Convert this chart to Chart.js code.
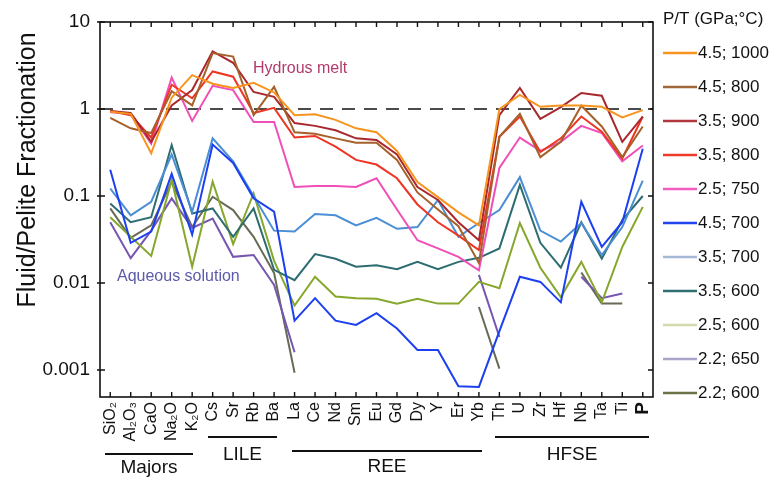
<!DOCTYPE html>
<html>
<head>
<meta charset="utf-8">
<script src="https://cdn.jsdelivr.net/npm/chart.js@4.4.1/dist/chart.umd.min.js"></script>
<style>
  html, body { margin: 0; padding: 0; background: #fff; }
  #wrap { width: 771px; height: 477px; }
</style>
</head>
<body>
<div id="wrap"><canvas id="fracChart" width="771" height="477"></canvas></div>
<script>
// element order along the x axis
const elements = ['SiO₂', 'Al₂O₃', 'CaO', 'Na₂O', 'K₂O', 'Cs', 'Sr', 'Rb', 'Ba', 'La', 'Ce', 'Nd', 'Sm', 'Eu', 'Gd',
  'Dy', 'Y', 'Er', 'Yb', 'Th', 'U', 'Zr', 'Hf', 'Nb', 'Ta', 'Ti', 'P'];
const yTicks = [0.001, 0.01, 0.1, 1, 10];
const yTickLabels = ['0.001', '0.01', '0.1', '1', '10'];

// P/T (GPa; °C) runs
const p45t1000 = [0.93, 0.88, 0.31, 1.35, 2.45, 1.95, 1.75, 2.0, 1.55, 0.85, 0.87, 0.75, 0.6, 0.54, 0.33, 0.145, 0.097, 0.065, 0.046, 1.0, 1.45, 1.06, 1.1, 1.1, 1.06, 0.8, 0.97];
const p45t800 = [0.79, 0.6, 0.53, 1.6, 1.1, 4.4, 4.0, 0.85, 1.8, 0.54, 0.52, 0.46, 0.41, 0.41, 0.26, 0.11, 0.07, 0.045, 0.017, 0.48, 0.88, 0.28, 0.42, 1.09, 0.63, 0.28, 0.63];
const p35t900 = [0.95, 0.9, 0.42, 1.1, 1.65, 4.6, 3.4, 1.57, 1.38, 0.69, 0.64, 0.57, 0.46, 0.44, 0.3, 0.127, 0.09, 0.05, 0.031, 0.85, 1.75, 0.77, 1.05, 1.53, 1.42, 0.42, 0.82];
const p35t800 = [0.95, 0.85, 0.47, 1.9, 1.33, 2.7, 2.35, 0.9, 1.03, 0.47, 0.49, 0.37, 0.26, 0.23, 0.16, 0.08, 0.05, 0.035, 0.024, 0.48, 0.82, 0.32, 0.46, 0.82, 0.55, 0.27, 0.82];
const p25t750 = [0.92, 0.88, 0.4, 2.3, 0.73, 1.85, 1.65, 0.71, 0.71, 0.127, 0.13, 0.13, 0.127, 0.16, 0.07, 0.031, 0.025, 0.02, 0.014, 0.21, 0.47, 0.33, 0.42, 0.64, 0.53, 0.25, 0.38];
const p45t700 = [0.2, 0.029, 0.039, 0.18, 0.036, 0.39, 0.24, 0.094, 0.066, 0.0037, 0.0067, 0.0037, 0.0033, 0.0045, 0.003, 0.0017, 0.0017, 0.00065, 0.00064, 0.0028, 0.0118, 0.0103, 0.006, 0.086, 0.026, 0.05, 0.35];
const p35t700 = [0.122, 0.06, 0.086, 0.3, 0.066, 0.46, 0.25, 0.1, 0.04, 0.039, 0.062, 0.06, 0.046, 0.056, 0.042, 0.044, 0.09, 0.034, 0.049, 0.069, 0.165, 0.04, 0.03, 0.049, 0.021, 0.044, 0.15];
const p35t600 = [0.082, 0.05, 0.057, 0.385, 0.063, 0.072, 0.034, 0.072, 0.0142, 0.0108, 0.0215, 0.019, 0.0154, 0.016, 0.0144, 0.0175, 0.0144, 0.0175, 0.0195, 0.025, 0.134, 0.029, 0.015, 0.05, 0.019, 0.053, 0.1];
const p25t600 = [0.057, 0.034, 0.0205, 0.153, 0.0154, 0.146, 0.028, 0.107, 0.018, 0.0055, 0.0118, 0.007, 0.0067, 0.0066, 0.0058, 0.0066, 0.0058, 0.0058, 0.0103, 0.0087, 0.049, 0.015, 0.0069, 0.0175, 0.006, 0.026, 0.075];
const p22t650 = [0.05, 0.0193, 0.04, 0.094, 0.043, 0.055, 0.02, 0.021, 0.0095, 0.0016, null, null, null, null, null, null, null, null, 0.0124, 0.0024, null, null, null, 0.0118, 0.0067, 0.0076, null];
const p22t600 = [0.072, 0.033, 0.046, 0.146, 0.044, 0.098, 0.069, 0.034, 0.013, 0.00093, null, null, null, null, null, null, null, null, 0.0053, 0.00104, null, null, null, 0.0132, 0.0058, 0.0058, null];

const series = [
  { label: '4.5; 1000', data: p45t1000, color: '#f7941d', legend: '#f7941d' },
  { label: '4.5; 800', data: p45t800, color: '#a6602a', legend: '#a0673a' },
  { label: '3.5; 900', data: p35t900, color: '#a8282e', legend: '#b0373c' },
  { label: '3.5; 800', data: p35t800, color: '#ee3524', legend: '#ee3a2a' },
  { label: '2.5; 750', data: p25t750, color: '#f04fb8', legend: '#f25cbe' },
  { label: '4.5; 700', data: p45t700, color: '#1c3ff0', legend: '#2244ee' },
  { label: '3.5; 700', data: p35t700, color: '#4a8ed4', legend: '#a6b8d8' },
  { label: '3.5; 600', data: p35t600, color: '#2d6d72', legend: '#2f6f70' },
  { label: '2.5; 600', data: p25t600, color: '#86a72b', legend: '#d3dbae' },
  { label: '2.2; 650', data: p22t650, color: '#7656b0', legend: '#aba4c9' },
  { label: '2.2; 600', data: p22t600, color: '#686a55', legend: '#6b7347' }
];

const FONT = 'Arial, "Liberation Sans", sans-serif';

const decorations = {
  id: 'decorations',
  beforeDatasetsDraw(chart) {
    const { ctx, chartArea: a, scales: { y } } = chart;
    const y1 = y.getPixelForValue(1);
    ctx.save();
    ctx.strokeStyle = '#111';
    ctx.lineWidth = 1.4;
    ctx.setLineDash([13, 9]);
    ctx.beginPath();
    ctx.moveTo(a.left, y1);
    ctx.lineTo(a.right, y1);
    ctx.stroke();
    ctx.restore();
  },
  afterDatasetsDraw(chart) {
    const { ctx, chartArea: a, scales: { x, y } } = chart;
    ctx.save();
    ctx.strokeStyle = '#111';
    ctx.lineWidth = 1.6;
    ctx.strokeRect(a.left, a.top, a.right - a.left, a.bottom - a.top);
    ctx.lineWidth = 1.4;
    ctx.beginPath();
    for (let i = 0; i < elements.length; i++) {
      const px = x.getPixelForTick(i);
      ctx.moveTo(px, a.top); ctx.lineTo(px, a.top + 5);
      ctx.moveTo(px, a.bottom); ctx.lineTo(px, a.bottom - 5);
    }
    for (const v of yTicks) {
      const py = y.getPixelForValue(v);
      ctx.moveTo(a.left - 3, py); ctx.lineTo(a.left + 5, py);
      ctx.moveTo(a.right, py); ctx.lineTo(a.right - 5, py);
    }
    ctx.stroke();

    // annotations
    ctx.textBaseline = 'middle';
    ctx.textAlign = 'left';
    ctx.font = '16px ' + FONT;
    ctx.fillStyle = '#b23a6c';
    ctx.fillText('Hydrous melt', 253, 69);
    ctx.fillStyle = '#5b5ba8';
    ctx.fillText('Aqueous solution', 117, 277);

    // y title
    ctx.save();
    ctx.translate(28, 170);
    ctx.rotate(-Math.PI / 2);
    ctx.textAlign = 'center';
    ctx.fillStyle = '#111';
    ctx.font = '25px ' + FONT;
    ctx.fillText('Fluid/Pelite Fractionation', 0, 0);
    ctx.restore();

    // element groups under the axis
    const groups = [
      { name: 'Majors', x0: 105, x1: 193, ly: 454, ty: 468 },
      { name: 'LILE', x0: 208, x1: 277, ly: 437, ty: 455 },
      { name: 'REE', x0: 292, x1: 482, ly: 451, ty: 467 },
      { name: 'HFSE', x0: 495, x1: 649, ly: 437, ty: 455 }
    ];
    ctx.lineWidth = 2;
    ctx.textAlign = 'center';
    ctx.font = '19px ' + FONT;
    ctx.fillStyle = '#111';
    for (const g of groups) {
      ctx.beginPath();
      ctx.moveTo(g.x0, g.ly); ctx.lineTo(g.x1, g.ly);
      ctx.stroke();
      ctx.fillText(g.name, (g.x0 + g.x1) / 2, g.ty);
    }

    // legend
    ctx.textAlign = 'left';
    ctx.font = '17px ' + FONT;
    ctx.fillText('P/T (GPa;°C)', 663, 19);
    series.forEach((s, i) => {
      const ly = 53 + i * 34;
      ctx.strokeStyle = s.legend;
      ctx.lineWidth = 2.5;
      ctx.beginPath();
      ctx.moveTo(663, ly); ctx.lineTo(697, ly);
      ctx.stroke();
      ctx.fillStyle = '#111';
      ctx.fillText(s.label, 698, ly);
    });
    ctx.restore();
  }
};

new Chart(document.getElementById('fracChart'), {
  type: 'line',
  data: {
    labels: elements,
    datasets: series.map(s => ({
      label: s.label,
      data: s.data,
      borderColor: s.color,
      backgroundColor: s.color,
      borderWidth: 2,
      pointRadius: 0,
      fill: false,
      tension: 0,
      spanGaps: false
    }))
  },
  options: {
    responsive: false,
    animation: false,
    devicePixelRatio: 1,
    layout: { padding: { top: 22, right: 118, left: 0, bottom: 0 } },
    plugins: { legend: { display: false }, tooltip: { enabled: false } },
    scales: {
      x: {
        type: 'category',
        offset: true,
        grid: { display: false, drawTicks: false },
        border: { display: false },
        ticks: {
          autoSkip: false,
          minRotation: 90,
          maxRotation: 90,
          padding: 5,
          color: '#111',
          font: ctx => ctx.index === elements.length - 1
            ? { family: FONT, size: 19, weight: 'bold' }
            : { family: FONT, size: 16 }
        },
        afterFit: s => { s.height = 80; }
      },
      y: {
        type: 'logarithmic',
        min: 0.00049,
        max: 10,
        grid: { display: false, drawTicks: false },
        border: { display: false },
        afterBuildTicks: s => { s.ticks = yTicks.map(v => ({ value: v })); },
        ticks: {
          padding: 10,
          color: '#111',
          font: { family: FONT, size: 19 },
          callback: v => yTickLabels[yTicks.indexOf(v)] || ''
        },
        afterFit: s => { s.width = 100; }
      }
    }
  },
  plugins: [decorations]
});
</script>
</body>
</html>
